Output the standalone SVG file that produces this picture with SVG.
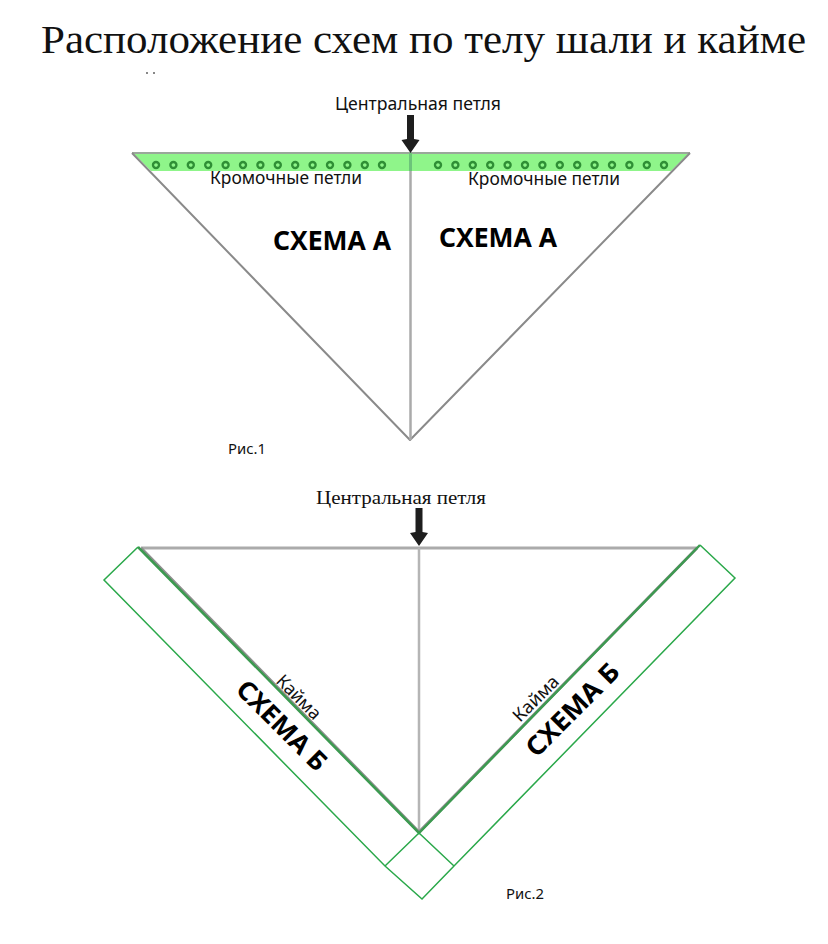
<svg xmlns="http://www.w3.org/2000/svg" width="828" height="944" viewBox="0 0 828 944">
<style>
text{fill:#111;font-family:"Noto Sans","Liberation Sans",sans-serif}
.t{font-family:"Liberation Serif",serif}
.b{font-weight:700;font-size:26px;fill:#000}
.l{font-size:18px}
.s{font-size:14px}
.g{fill:none;stroke:#ababab;stroke-width:3}
.v{fill:none;stroke:#b5b5b5;stroke-width:2.5}
.e{fill:none;stroke:#2aa84a;stroke-width:1.5}
.d{fill:none;stroke:#3c9a50;stroke-width:2.5}
.dot{fill:none;stroke:#2f8f35;stroke-width:2.4}
</style>
<defs>
<g id="arrow"><path d="M-3.5-38H3.5V-14L9-13L0,0L-9-13L-3.5-14Z" fill="#1e1e1e"/></g>
<circle id="dt" r="3" class="dot"/>
</defs>
<rect width="828" height="944" fill="#fff"/>
<text id="title" class="t" x="41" y="53" font-size="41" textLength="765" lengthAdjust="spacingAndGlyphs">Расположение схем по телу шали и кайме</text>
<g id="specks" fill="#888"><rect x="146" y="72" width="2" height="2"/><rect x="153" y="72" width="2" height="2"/></g>
<g id="connectors">
<path id="band" d="M133 153H689L671 171H151Z" fill="#8ff58a" stroke="none"/>
<path class="g" d="M132 153H690" style="stroke:#9aa89a;stroke-width:2"/>
<path class="g" d="M132 153L410 440L690 153" stroke-linejoin="round" style="stroke:#8a8a8a;stroke-width:2"/>
<path class="v" d="M410.500 171V440" style="stroke:#aaa"/>
<path d="M410.500 153V171" stroke="#6cc47a" stroke-width="3" fill="none"/>
<use href="#arrow" x="410.500" y="153"/>
<path class="g" d="M141 548H697"/>
<path class="v" d="M419 548V832"/>
<path class="g" d="M141 548L419 832L697 548" style="stroke:#8f8f8f"/>
<path class="d" d="M138 547L419 833L700 545"/>
<use href="#arrow" x="419" y="546"/>
<path class="e" d="M138 547L104 580L385 866L419 833M700 545L735 578L454 866L419 833M385 866L422 899L454 866"/>
</g>
<g id="dots-left"><use href="#dt" x="156" y="165"/><use href="#dt" x="173.400" y="165"/><use href="#dt" x="190.800" y="165"/><use href="#dt" x="208.200" y="165"/><use href="#dt" x="225.600" y="165"/><use href="#dt" x="243" y="165"/><use href="#dt" x="260.400" y="165"/><use href="#dt" x="277.800" y="165"/><use href="#dt" x="295.200" y="165"/><use href="#dt" x="312.600" y="165"/><use href="#dt" x="330" y="165"/><use href="#dt" x="347.400" y="165"/><use href="#dt" x="364.800" y="165"/><use href="#dt" x="382" y="165"/></g>
<g id="dots-right"><use href="#dt" x="438" y="165"/><use href="#dt" x="455.400" y="165"/><use href="#dt" x="472.800" y="165"/><use href="#dt" x="490.200" y="165"/><use href="#dt" x="507.600" y="165"/><use href="#dt" x="525" y="165"/><use href="#dt" x="542.400" y="165"/><use href="#dt" x="559.800" y="165"/><use href="#dt" x="577.200" y="165"/><use href="#dt" x="594.600" y="165"/><use href="#dt" x="612" y="165"/><use href="#dt" x="629.400" y="165"/><use href="#dt" x="646.800" y="165"/><use href="#dt" x="664" y="165"/></g>
<g id="labels-top">
<text class="l" x="335" y="110" textLength="166" lengthAdjust="spacingAndGlyphs">Центральная петля</text>
<text class="l" x="210" y="184" textLength="152" lengthAdjust="spacingAndGlyphs">Кромочные петли</text>
<text class="l" x="468" y="185" textLength="152" lengthAdjust="spacingAndGlyphs">Кромочные петли</text>
<text class="b" x="273" y="250" textLength="118" lengthAdjust="spacingAndGlyphs">СХЕМА А</text>
<text class="b" x="439" y="247" textLength="118" lengthAdjust="spacingAndGlyphs">СХЕМА А</text>
<text class="s" x="228" y="454" textLength="38" lengthAdjust="spacingAndGlyphs">Рис.1</text>
</g>
<g id="labels-bottom">
<text class="t" font-size="19" x="316" y="504" textLength="170" lengthAdjust="spacingAndGlyphs">Центральная петля</text>
<text class="l" transform="translate(275,682) rotate(45)" textLength="55" lengthAdjust="spacingAndGlyphs">Кайма</text>
<text class="b" transform="translate(234.500,691) rotate(45)" textLength="116" lengthAdjust="spacingAndGlyphs">СХЕМА Б</text>
<text class="l" transform="translate(520,723) rotate(-45)" textLength="57" lengthAdjust="spacingAndGlyphs">Кайма</text>
<text class="b" transform="translate(536.500,758.500) rotate(-45)" textLength="120" lengthAdjust="spacingAndGlyphs">СХЕМА Б</text>
<text class="s" x="506" y="899" textLength="38" lengthAdjust="spacingAndGlyphs">Рис.2</text>
</g>
</svg>
